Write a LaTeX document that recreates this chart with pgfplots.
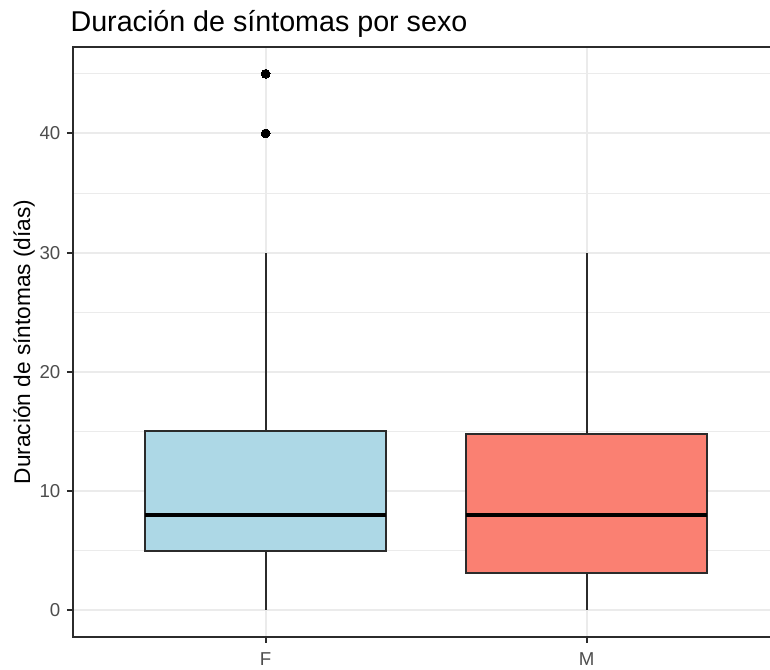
\documentclass[border=0pt]{standalone}
\usepackage{pgfplots}
\pgfplotsset{compat=1.18}
\usepgfplotslibrary{statistics}
\usepackage{fontspec}
\setmainfont{Liberation Sans}
\definecolor{grey20}{HTML}{2B2B2B}
\definecolor{grey30}{HTML}{4D4D4D}
\definecolor{grey92}{HTML}{EBEBEB}
\definecolor{boxF}{HTML}{ADD8E6}
\definecolor{boxM}{HTML}{FA8072}
\begin{document}
\begin{tikzpicture}
\useasboundingbox (0,0) rectangle (577.5pt,502.5pt);
\begin{axis}[
  at={(54.75pt,24.75pt)}, anchor=south west,
  scale only axis, width=522.75pt, height=442.5pt,
  xmin=0.4, xmax=2.571, ymin=-2.25, ymax=47.25,
  xtick={1,2}, xticklabels={F,M},
  ytick={0,10,20,30,40},
  minor ytick={5,15,25,35,45},
  xmajorgrids, ymajorgrids, yminorgrids,
  major grid style={draw=grey92, line width=1.5pt},
  minor grid style={draw=grey92, line width=0.75pt},
  axis line style={draw=none},
  tick pos=left, tick align=outside,
  major tick length=4.5pt, minor tick length=0pt,
  tick style={draw=grey20, line width=1.5pt},
  clip=false,
  /pgf/number format/assume math mode=true,
  ticklabel style={font=\fontsize{14pt}{16pt}\selectfont, text=grey30, inner sep=0pt},
  yticklabel style={xshift=-4.8pt},
  xticklabel style={yshift=-6.75pt},
  ylabel={Duración de síntomas (días)},
  ylabel style={at={(axis description cs:-0.0703,0.5)}, anchor=center, font=\fontsize{17pt}{20pt}\selectfont},
  title={Duración de síntomas por sexo},
  title style={at={(axis description cs:0,1)}, anchor=base west, yshift=5.25pt, xshift=-2pt, inner sep=0pt, font=\fontsize{21.5pt}{25pt}\selectfont},
  boxplot/draw direction=y,
  boxplot/box extend=0.75,
  boxplot/whisker extend=0,
  boxplot/every median/.style={line width=3pt, draw=black},
]
\addplot[draw=grey20, fill=boxF, line width=1.5pt, mark=*, mark size=3.3pt,
  mark options={fill=black, draw=black, line width=0pt},
  boxplot prepared={lower whisker=0, lower quartile=5, median=8, upper quartile=15, upper whisker=30, draw position=1}]
  coordinates {(0,40) (0,45)};
\addplot[draw=grey20, fill=boxM, line width=1.5pt, mark=*, mark size=3.3pt,
  mark options={fill=black, draw=black},
  boxplot prepared={lower whisker=0, lower quartile=3.15, median=8, upper quartile=14.75, upper whisker=30, draw position=2}]
  coordinates {};
\draw[grey20, line width=1.5pt] (rel axis cs:1,1) -- (rel axis cs:0,1) -- (rel axis cs:0,0) -- (rel axis cs:1,0);
\end{axis}
\end{tikzpicture}
\end{document}
